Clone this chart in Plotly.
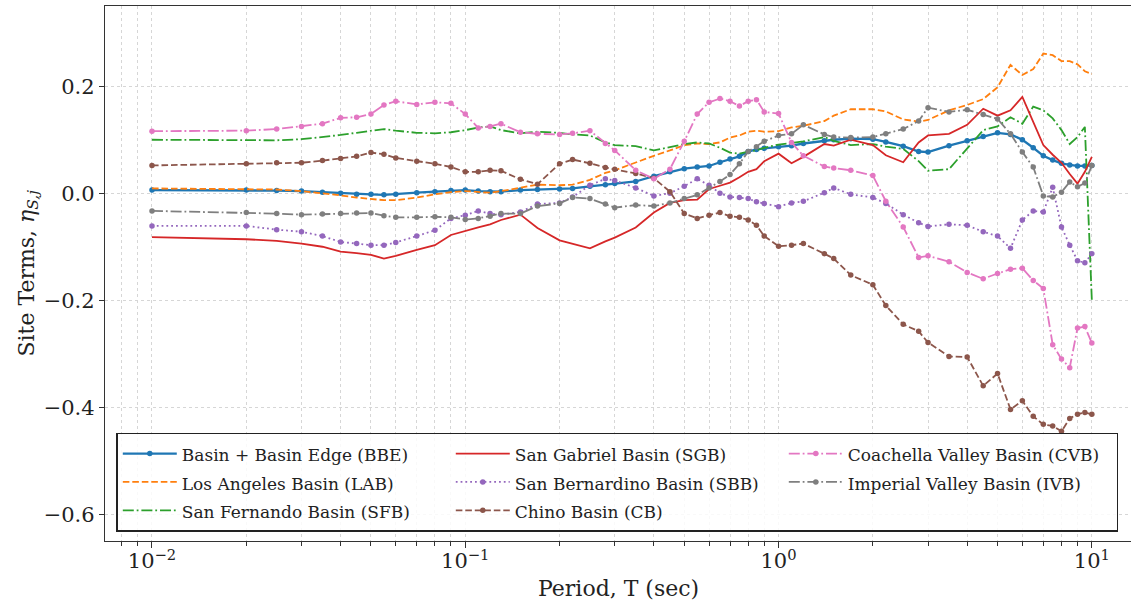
import plotly.graph_objects as go

periods = [0.01, 0.02, 0.025, 0.03, 0.035, 0.04, 0.045, 0.05, 0.055, 0.06,
           0.07, 0.08, 0.09, 0.1, 0.11, 0.12, 0.13, 0.15, 0.17, 0.2,
           0.22, 0.25, 0.28, 0.3, 0.35, 0.4, 0.45, 0.5, 0.55, 0.6,
           0.65, 0.7, 0.75, 0.8, 0.85, 0.9, 1.0, 1.1, 1.2, 1.4,
           1.5, 1.7, 2.0, 2.2, 2.5, 2.8, 3.0, 3.5, 4.0, 4.5,
           5.0, 5.5, 6.0, 6.5, 7.0, 7.5, 8.0, 8.5, 9.0, 9.5, 10.0]

bbe = [0.006, 0.006, 0.005, 0.004, 0.002, 0.0, -0.002, -0.002, -0.003, -0.002,
       0.001, 0.003, 0.005, 0.006, 0.004, 0.003, 0.003, 0.006, 0.007, 0.008,
       0.009, 0.013, 0.016, 0.018, 0.022, 0.032, 0.04, 0.046, 0.049, 0.051,
       0.058, 0.064, 0.069, 0.078, 0.082, 0.084, 0.087, 0.089, 0.093, 0.098,
       0.1, 0.102, 0.101, 0.096, 0.088, 0.078, 0.077, 0.089, 0.098, 0.106,
       0.113, 0.11, 0.1, 0.085, 0.07, 0.062, 0.056, 0.053, 0.051, 0.051, 0.052]

lab = [0.009, 0.008, 0.007, 0.004, 0.0, -0.004, -0.008, -0.011, -0.013, -0.013,
       -0.008, -0.002, 0.002, 0.004, 0.003, 0.001, 0.004, 0.01, 0.016, 0.015,
       0.016, 0.025, 0.038, 0.043, 0.058, 0.07, 0.08, 0.09, 0.093, 0.092,
       0.095, 0.104, 0.108, 0.115, 0.117, 0.115, 0.116, 0.123, 0.126, 0.135,
       0.145, 0.157, 0.157, 0.153, 0.138, 0.134, 0.137, 0.155, 0.165, 0.176,
       0.198, 0.24, 0.221, 0.232, 0.261, 0.258, 0.247, 0.247, 0.241, 0.228, 0.223]

sfb = [0.1, 0.1, 0.099, 0.101, 0.105, 0.109, 0.113, 0.117, 0.12, 0.117,
       0.113, 0.112, 0.114, 0.118, 0.123, 0.125, 0.118, 0.112, 0.115, 0.113,
       0.11, 0.108, 0.095, 0.09, 0.088, 0.08, 0.087, 0.092, 0.095, 0.093,
       0.085, 0.076, 0.074, 0.078, 0.08, 0.085, 0.091, 0.094, 0.097, 0.105,
       0.098, 0.09, 0.092, 0.087, 0.083, 0.06, 0.042, 0.045, 0.083, 0.118,
       0.125, 0.142, 0.13, 0.162, 0.155, 0.14, 0.118, 0.092, 0.105, 0.124, -0.2]

sgb = [-0.082, -0.086, -0.089, -0.094, -0.1, -0.109, -0.112, -0.115, -0.122, -0.117,
       -0.106, -0.097, -0.078, -0.07, -0.064, -0.058, -0.05, -0.04, -0.065, -0.088,
       -0.095, -0.103, -0.09, -0.083, -0.064, -0.036, -0.018, -0.013, -0.012, 0.008,
       0.014, 0.02, 0.03, 0.04, 0.045, 0.06, 0.074, 0.056, 0.068, 0.092,
       0.089, 0.1, 0.09, 0.071, 0.058, 0.095, 0.108, 0.111, 0.128, 0.158,
       0.145, 0.155, 0.18, 0.135, 0.09, 0.072, 0.057, 0.036, 0.018, 0.04, 0.068]

sbb = [-0.061, -0.061, -0.068, -0.072, -0.08, -0.091, -0.094, -0.097, -0.097, -0.092,
       -0.08, -0.069, -0.047, -0.041, -0.033, -0.038, -0.04, -0.035, -0.02, -0.018,
       -0.007, 0.015, 0.027, 0.024, 0.01, -0.005, 0.0, 0.013, 0.027, 0.015,
       0.0, -0.007, -0.008, -0.01, -0.016, -0.019, -0.025, -0.018, -0.015, 0.001,
       0.01, -0.002, -0.008, -0.019, -0.04, -0.055, -0.062, -0.058, -0.06, -0.072,
       -0.08, -0.103, -0.05, -0.033, -0.035, 0.011, -0.063, -0.097, -0.126, -0.13, -0.113]

cb = [0.052, 0.055, 0.057, 0.057, 0.061, 0.065, 0.069, 0.076, 0.073, 0.066,
      0.06, 0.055, 0.049, 0.04, 0.04, 0.043, 0.042, 0.026, 0.017, 0.055,
      0.063, 0.056, 0.048, 0.045, 0.037, 0.028, 0.003, -0.038, -0.047, -0.041,
      -0.036, -0.043, -0.045, -0.05, -0.06, -0.08, -0.099, -0.097, -0.094, -0.113,
      -0.122, -0.153, -0.171, -0.21, -0.245, -0.258, -0.279, -0.305, -0.306, -0.36,
      -0.337, -0.404, -0.388, -0.417, -0.432, -0.435, -0.445, -0.421, -0.413, -0.41, -0.413]

cvb = [0.116, 0.117, 0.12, 0.125, 0.13, 0.141, 0.142, 0.148, 0.165, 0.172,
       0.166, 0.17, 0.168, 0.148, 0.122, 0.125, 0.13, 0.114, 0.111, 0.11,
       0.112, 0.117, 0.093, 0.08, 0.043, 0.027, 0.045, 0.097, 0.148, 0.17,
       0.177, 0.172, 0.163, 0.172, 0.175, 0.152, 0.149, 0.095, 0.07, 0.05,
       0.047, 0.043, 0.033, -0.015, -0.063, -0.12, -0.117, -0.128, -0.148, -0.16,
       -0.15, -0.142, -0.14, -0.163, -0.178, -0.283, -0.31, -0.326, -0.252, -0.249, -0.28]

ivb = [-0.033, -0.036, -0.038, -0.04, -0.039, -0.038, -0.037, -0.037, -0.042, -0.045,
       -0.045, -0.044, -0.045, -0.049, -0.047, -0.043, -0.038, -0.038, -0.024, -0.019,
       -0.008, -0.01, -0.02, -0.027, -0.022, -0.024, -0.018, -0.01, -0.003, 0.01,
       0.022, 0.035, 0.055, 0.078, 0.087, 0.097, 0.108, 0.111, 0.128, 0.11,
       0.105, 0.104, 0.105, 0.111, 0.12, 0.135, 0.16, 0.152, 0.156, 0.147,
       0.139, 0.111, 0.077, 0.049, -0.005, -0.007, 0.002, 0.021, 0.012, 0.019, 0.052]

names = ["Basin + Basin Edge (BBE)", "Los Angeles Basin (LAB)", "San Fernando Basin (SFB)",
         "San Gabriel Basin (SGB)", "San Bernardino Basin (SBB)", "Chino Basin (CB)",
         "Coachella Valley Basin (CVB)", "Imperial Valley Basin (IVB)"]

x_tick_vals = [0.01, 0.1, 1, 10]
x_tick_text = ["10<sup>−2</sup>", "10<sup>−1</sup>", "10<sup>0</sup>", "10<sup>1</sup>"]
y_tick_vals = [-0.6, -0.4, -0.2, 0.0, 0.2]
y_tick_text = ["−0.6", "−0.4", "−0.2", "0.0", "0.2"]

LW = 1.8
DASHDOT = "11px,2.9px,1.8px,2.9px"
DASHED = "6.6px,2.9px"
DOTTED = "1.8px,3px"

styles = [
    # data, color, dash, markers, width, legend rank (row-major for 3 columns)
    (bbe, "#1f77b4", "solid", True, 2.3, 1),
    (lab, "#ff7f0e", DASHED, False, LW, 4),
    (sfb, "#2ca02c", DASHDOT, False, LW, 7),
    (sgb, "#d62728", "solid", False, LW, 2),
    (sbb, "#9467bd", DOTTED, True, LW, 5),
    (cb, "#8c564b", DASHED, True, LW, 8),
    (cvb, "#e377c2", DASHDOT, True, LW, 3),
    (ivb, "#7f7f7f", DASHDOT, True, LW, 6),
]

fig = go.Figure()
for name, (vals, color, dash, mk, w, rank) in zip(names, styles):
    fig.add_trace(go.Scatter(
        x=periods, y=vals,
        name='<span style="font-size:17px">' + name + '</span>',
        legendrank=rank,
        mode="lines+markers" if mk else "lines",
        line=dict(color=color, width=w, dash=dash),
        marker=dict(size=5.5, color=color),
    ))

minor_vals = [m * 10 ** e for e in (-3, -2, -1, 0, 1) for m in range(2, 10)]
grid_col = "#d6d6d6"

fig.update_layout(
    width=1131, height=605,
    margin=dict(l=105, r=0, t=6, b=64, autoexpand=False),
    paper_bgcolor="white", plot_bgcolor="white",
    font=dict(family="DejaVu Serif", color="#222222", size=16),
    legend=dict(
        orientation="h", x=0.011, y=0.202, xanchor="left", yanchor="top",
        entrywidth=264, entrywidthmode="pixels",
        bgcolor="rgba(255,255,255,0.85)", bordercolor="#222222", borderwidth=1.5,
        font=dict(size=19.5, family="DejaVu Serif"),
        traceorder="normal", itemwidth=54,
    ),
    xaxis=dict(
        type="log", range=[-2.15, 1.125], automargin=False,
        tickvals=x_tick_vals, ticktext=x_tick_text,
        tickfont=dict(size=21), ticklabelstandoff=-5,
        ticks="outside", ticklen=6, tickwidth=1.2, tickcolor="#333",
        showline=True, linecolor="#333", linewidth=1.3, mirror=True,
        showgrid=True, gridcolor=grid_col, griddash="dot", gridwidth=1,
        minor=dict(tickvals=minor_vals, ticks="outside", ticklen=3.5, tickcolor="#333",
                   showgrid=True, gridcolor=grid_col, griddash="dot", gridwidth=0.8),
        zeroline=False,
    ),
    yaxis=dict(
        range=[-0.65, 0.35], automargin=False,
        tickvals=y_tick_vals, ticktext=y_tick_text,
        tickfont=dict(size=21),
        ticks="outside", ticklen=5, tickwidth=1.2, tickcolor="#333",
        showline=True, linecolor="#333", linewidth=1.3,
        showgrid=True, gridcolor=grid_col, griddash="dot", gridwidth=1,
        zeroline=False,
    ),
    annotations=[
        dict(text="Period, T (sec)", xref="paper", yref="paper", x=0.5, y=-0.088,
             xanchor="center", yanchor="middle", showarrow=False, font=dict(size=22)),
        dict(text="Site Terms, <i>η</i><sub><i>S,j</i></sub>", xref="paper", yref="paper",
             x=-0.075, y=0.5, xanchor="center", yanchor="middle", textangle=-90,
             showarrow=False, font=dict(size=22)),
    ],
)

fig.write_html(
    "out.html",
    config={"displayModeBar": False},
    post_script="document.body.style.margin='0';document.body.style.overflow='hidden';",
)
